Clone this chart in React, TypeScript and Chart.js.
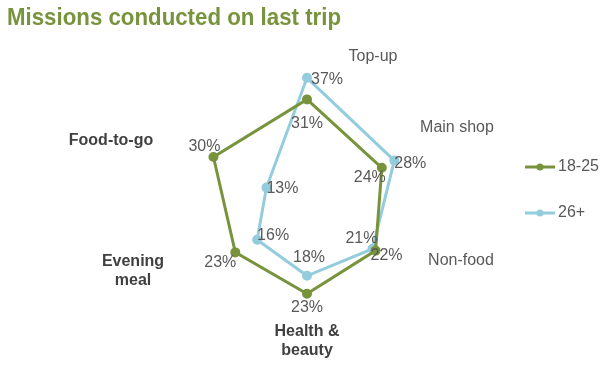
import React, { useEffect, useRef } from "react";
import { Chart, registerables } from "chart.js";

Chart.register(...registerables);

const TITLE = "Missions conducted on last trip";
const categories = ["Top-up", "Main shop", "Non-food", "Health & beauty", "Evening meal", "Food-to-go"];
const seriesNames = ["18-25", "26+"];
const values1825 = [31, 24, 22, 23, 23, 30];
const values26 = [37, 28, 21, 18, 16, 13];

const GREEN = "#77933C";
const BLUE = "#93CDDD";
const GREY = "#595959";
const DARK = "#404040";
const FONT = "'Liberation Sans', Arial, sans-serif";

// label placement (offsets from the point, px)
const labelOffsets1825 = [[0, 24], [-12, 10], [11, 5], [0, 14], [-15, 10], [-9, -10]];
const labelOffsets26 = [[20, 2], [16, 3], [-11, -10], [2, -18], [16, -4], [16, 1]];

// category label lines, bold flag, and offset from chart centre
const catLabelLines = [["Top-up"], ["Main shop"], ["Non-food"], ["Health &", "beauty"], ["Evening", "meal"], ["Food-to-go"]];
const catBold = [false, false, false, true, true, true];
const catOffsets = [[66, -154], [150, -83], [154, 50], [0, 121], [-174, 51], [-196, -70]];

const overlayPlugin = {
  id: "overlay",
  afterDatasetsDraw(chart: any) {
    const ctx = chart.ctx;
    ctx.save();
    // title
    ctx.fillStyle = GREEN;
    ctx.font = `bold 24px ${FONT}`;
    ctx.textAlign = "left";
    ctx.textBaseline = "alphabetic";
    ctx.fillText(TITLE, 7, 25, 334);

    // data labels
    ctx.font = `16px ${FONT}`;
    ctx.fillStyle = GREY;
    ctx.textAlign = "center";
    ctx.textBaseline = "middle";
    const offs = [labelOffsets1825, labelOffsets26];
    chart.data.datasets.forEach((ds: any, di: number) => {
      const meta = chart.getDatasetMeta(di);
      meta.data.forEach((pt: any, i: number) => {
        const [dx, dy] = offs[di][i];
        ctx.fillText(ds.data[i] + "%", pt.x + dx, pt.y + dy);
      });
    });

    // category labels
    const scale = chart.scales.r;
    const cx = scale.xCenter;
    const cy = scale.yCenter;
    catLabelLines.forEach((lines, i) => {
      ctx.font = `${catBold[i] ? "bold " : ""}16px ${FONT}`;
      ctx.fillStyle = catBold[i] ? DARK : GREY;
      lines.forEach((ln, j) => {
        ctx.fillText(ln, cx + catOffsets[i][0], cy + catOffsets[i][1] + j * 19);
      });
    });

    // legend
    const legendY = [167, 213];
    const colors = [GREEN, BLUE];
    seriesNames.forEach((name, i) => {
      const y = legendY[i];
      ctx.strokeStyle = colors[i];
      ctx.lineWidth = 3;
      ctx.beginPath();
      ctx.moveTo(525, y);
      ctx.lineTo(555, y);
      ctx.stroke();
      ctx.fillStyle = colors[i];
      ctx.beginPath();
      ctx.arc(540, y, 3.5, 0, Math.PI * 2);
      ctx.fill();
      ctx.fillStyle = GREY;
      ctx.font = `16px ${FONT}`;
      ctx.textAlign = "left";
      ctx.fillText(name, 558, y);
    });
    ctx.restore();
  },
};

export default function App() {
  const ref = useRef<HTMLCanvasElement>(null);
  useEffect(() => {
    if (!ref.current) return;
    const chart = new Chart(ref.current, {
      type: "radar",
      data: {
        labels: categories,
        datasets: [
          {
            label: seriesNames[0],
            data: values1825,
            borderColor: GREEN,
            backgroundColor: GREEN,
            pointBackgroundColor: GREEN,
            pointBorderColor: GREEN,
            borderWidth: 3,
            pointRadius: 3.5,
            fill: false,
            tension: 0,
          },
          {
            label: seriesNames[1],
            data: values26,
            borderColor: BLUE,
            backgroundColor: BLUE,
            pointBackgroundColor: BLUE,
            pointBorderColor: BLUE,
            borderWidth: 3,
            pointRadius: 3.5,
            fill: false,
            tension: 0,
          },
        ],
      },
      options: {
        animation: false,
        responsive: false,
        layout: { padding: { left: 100, right: 102, top: 67, bottom: 20 } },
        plugins: { legend: { display: false }, tooltip: { enabled: false }, title: { display: false } },
        scales: {
          r: {
            min: 0,
            max: 40,
            grid: { display: false },
            angleLines: { display: false },
            ticks: { display: false },
            pointLabels: { display: false },
          },
        },
      },
      plugins: [overlayPlugin],
    });
    return () => chart.destroy();
  }, []);
  return (
    <div style={{ position: "fixed", left: 0, top: 0, width: 616, height: 375, background: "#fff" }}>
      <canvas ref={ref} width={616} height={375} style={{ width: 616, height: 375 }} />
    </div>
  );
}
